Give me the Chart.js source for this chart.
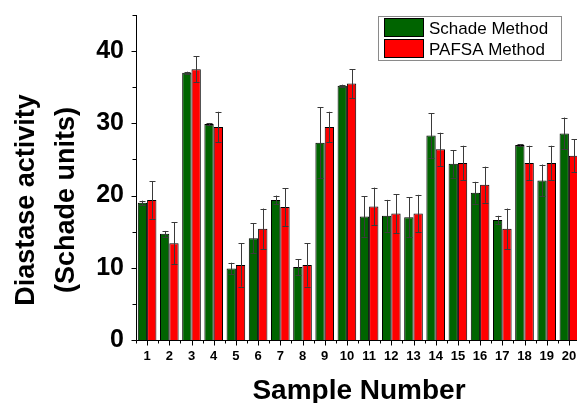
<!DOCTYPE html>
<html>
<head>
<meta charset="utf-8">
<script src="https://cdn.jsdelivr.net/npm/chart.js@4.4.0/dist/chart.umd.min.js"></script>
<style>
html,body{margin:0;padding:0;background:#fff;overflow:hidden;width:577px;height:403px;}
#wrap{position:relative;width:582px;height:403px;}
</style>
</head>
<body>
<div id="wrap"><canvas id="c" width="582" height="403"></canvas></div>
<script>
const categories = ['1','2','3','4','5','6','7','8','9','10','11','12','13','14','15','16','17','18','19','20'];
const schadeValues = [19.0,14.7,37.0,29.9,9.9,14.1,19.4,10.1,27.3,35.2,17.1,17.2,17.0,28.3,24.4,20.4,16.6,27.0,22.1,28.6];
const schadeErrors = [0.3,0.4,0.15,0.15,0.8,2.1,0.6,1.1,4.9,0.15,2.8,2.2,2.8,3.1,1.9,1.5,0.6,0.1,2.2,2.2];
const pafsaValues = [19.4,13.4,37.5,29.5,10.4,15.4,18.4,10.4,29.5,35.5,18.5,17.5,17.5,26.4,24.5,21.5,15.4,24.5,24.5,25.5];
const pafsaErrors = [2.6,2.9,1.8,2.1,3.0,2.8,2.6,3.0,2.1,2.0,2.6,2.7,2.6,2.3,2.4,2.5,2.8,2.4,2.4,2.3];
const yTickValues = [0,10,20,30,40];
const seriesNames = ['Schade Method','PAFSA Method'];
const yTitle = ['Diastase activity','(Schade units)'];
const xTitle = 'Sample Number';

const FONT = "'Liberation Sans', Arial, sans-serif";
const errorsByDataset = [schadeErrors, pafsaErrors];

const decorPlugin = {
  id: 'decor',
  afterDatasetsDraw(chart) {
    const ctx = chart.ctx;
    const y = chart.scales.y;
    ctx.save();
    ctx.strokeStyle = '#3a3a3a';
    ctx.lineWidth = 1;
    chart.data.datasets.forEach((ds, di) => {
      const meta = chart.getDatasetMeta(di);
      meta.data.forEach((el, i) => {
        const v = ds.data[i], e = errorsByDataset[di][i];
        const cx = Math.round(el.x) + 0.5;
        const yt = y.getPixelForValue(v + e), yb = y.getPixelForValue(v - e);
        ctx.beginPath();
        ctx.moveTo(cx, yt); ctx.lineTo(cx, yb);
        ctx.moveTo(cx - 3, Math.round(yt) + 0.5); ctx.lineTo(cx + 3, Math.round(yt) + 0.5);
        ctx.moveTo(cx - 3, Math.round(yb) + 0.5); ctx.lineTo(cx + 3, Math.round(yb) + 0.5);
        ctx.stroke();
      });
    });
    ctx.restore();
  },
  afterDraw(chart) {
    const ctx = chart.ctx;
    const y = chart.scales.y, x = chart.scales.x;
    const area = chart.chartArea;
    ctx.save();
    ctx.strokeStyle = '#000';
    ctx.lineWidth = 1;
    const ax = Math.round(area.left) + 0.5;
    const ay = Math.round(area.bottom) + 0.5;
    ctx.beginPath();
    ctx.moveTo(ax, area.top); ctx.lineTo(ax, ay);
    ctx.moveTo(ax, ay); ctx.lineTo(area.right + 5, ay);
    for (let v = 0; v <= y.max; v += 5) {
      const py = Math.round(y.getPixelForValue(v)) + 0.5;
      const len = (v % 10 === 0) ? 5 : 4;
      ctx.moveTo(ax - len, py); ctx.lineTo(ax, py);
    }
    const n = chart.data.labels.length;
    for (let i = 0; i < n; i++) {
      const px = Math.round(x.getPixelForValue(i)) + 0.5;
      ctx.moveTo(px, ay); ctx.lineTo(px, ay + 5);
    }
    for (let i = 0; i <= n; i++) {
      const px = Math.round(x.getPixelForValue(i - 0.5)) + 0.5;
      ctx.moveTo(px, ay); ctx.lineTo(px, ay + 3);
    }
    ctx.stroke();

    ctx.fillStyle = '#000';
    ctx.font = 'bold 27px ' + FONT;
    ctx.textAlign = 'center';
    ctx.textBaseline = 'alphabetic';
    const cy = 200;
    [33.5, 74].forEach((bx, k) => {
      ctx.save();
      ctx.translate(bx, cy);
      ctx.rotate(-Math.PI / 2);
      ctx.fillText(yTitle[k], 0, 0);
      ctx.restore();
    });
    ctx.font = 'bold 28px ' + FONT;
    ctx.fillText(xTitle, 359, 399);

    const lx = 378.5, ly = 16.5, lw = 183, lh = 44;
    ctx.fillStyle = '#fff';
    ctx.fillRect(lx, ly, lw, lh);
    ctx.strokeStyle = '#8a8a8a';
    ctx.strokeRect(lx, ly, lw, lh);
    ctx.font = '17px ' + FONT;
    ctx.textAlign = 'left';
    chart.data.datasets.forEach((ds, di) => {
      const sy = 18.5 + di * 21;
      ctx.fillStyle = ds.backgroundColor;
      ctx.fillRect(384.5, sy, 39, 18);
      ctx.strokeStyle = '#000';
      ctx.strokeRect(384.5, sy, 39, 18);
      ctx.fillStyle = '#000';
      ctx.fillText(ds.label, 429, 33.5 + di * 21.5);
    });
    ctx.restore();
  }
};

new Chart(document.getElementById('c'), {
  type: 'bar',
  data: {
    labels: categories,
    datasets: [
      { label: seriesNames[0], data: schadeValues, backgroundColor: '#006400', borderColor: '#000', borderWidth: 1, borderSkipped: 'bottom' },
      { label: seriesNames[1], data: pafsaValues, backgroundColor: '#ff0000', borderColor: '#000', borderWidth: 1, borderSkipped: 'bottom' }
    ]
  },
  options: {
    responsive: false,
    animation: false,
    layout: { padding: { left: 0, right: 2, top: 15, bottom: 0 } },
    datasets: { bar: { categoryPercentage: 0.84, barPercentage: 1.0 } },
    plugins: { legend: { display: false }, tooltip: { enabled: false } },
    scales: {
      x: {
        grid: { display: false, drawTicks: false },
        border: { display: false },
        ticks: { color: '#000', font: { family: FONT, size: 13, weight: 'bold' }, padding: 9, maxRotation: 0, autoSkip: false },
        afterFit(s) { s.height = 63; s.paddingLeft = 0; s.paddingRight = 0; }
      },
      y: {
        min: 0, max: 45,
        grid: { display: false, drawTicks: false },
        border: { display: false },
        afterBuildTicks(s) { s.ticks = yTickValues.map(v => ({ value: v })); },
        ticks: { color: '#000', font: { family: FONT, size: 25, weight: 'bold' }, padding: 12 },
        afterFit(s) { s.width = 136; s.paddingTop = 0; s.paddingBottom = 0; }
      }
    }
  },
  plugins: [decorPlugin]
});
</script>
</body>
</html>
